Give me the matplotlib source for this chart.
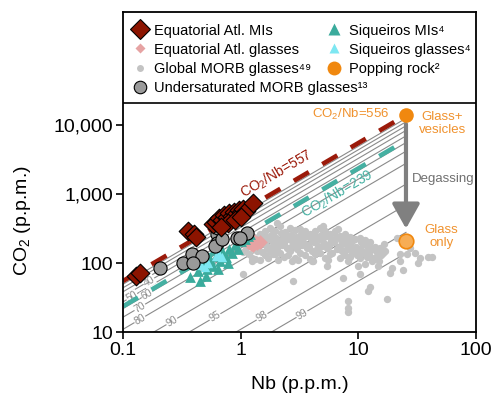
import numpy as np
import matplotlib
matplotlib.use('Agg')
import matplotlib.pyplot as plt
from matplotlib.ticker import FixedLocator, NullLocator

plt.rcParams['font.family'] = ['Liberation Sans', 'DejaVu Sans']
plt.rcParams['mathtext.fontset'] = 'custom'
plt.rcParams['mathtext.rm'] = 'Liberation Sans'
plt.rcParams['mathtext.it'] = 'Liberation Sans:italic'
plt.rcParams['mathtext.bf'] = 'Liberation Sans:bold'
plt.rcParams['mathtext.default'] = 'regular'

# --- data ---
# Equatorial Atlantic melt inclusions
eq_mi_nb = [0.129, 0.14, 0.36, 0.40, 0.42, 0.58, 0.62, 0.66, 0.70, 0.72, 0.76, 0.80, 0.84,
            0.88, 0.92, 0.96, 1.0, 1.05, 1.1, 0.78, 0.9, 1.0, 0.68, 1.27]
eq_mi_co2 = [66, 72, 300, 265, 240, 370, 400, 450, 420, 500, 470, 540, 480,
             560, 520, 600, 550, 620, 580, 380, 430, 470, 340, 750]

# Equatorial Atlantic glasses
eq_gl_nb = [1.15, 1.22, 1.3, 1.38, 1.45, 1.28]
eq_gl_co2 = [205, 190, 212, 196, 202, 185]

# Siqueiros melt inclusions / glasses
sq_mi_nb = [0.371, 0.434, 0.479, 0.518, 0.548, 0.582, 0.617, 0.667, 0.693, 0.750, 0.796,
            0.843, 0.895, 0.948, 1.006, 1.089, 1.153, 1.20, 0.451, 0.508, 0.78, 0.641]
sq_mi_co2 = [64, 78, 102, 84, 117, 93, 129, 109, 152, 125, 163,
             143, 186, 160, 213, 227, 251, 268, 56, 66, 100, 84]
sq_gl_nb = [0.46, 0.50, 0.53, 0.62, 0.66, 0.70]
sq_gl_co2 = [95, 88, 100, 130, 138, 125]

# undersaturated MORB glasses
us_nb = [0.206, 0.324, 0.386, 0.469, 0.393, 0.63, 0.63, 0.605, 0.93, 1.13, 0.64, 0.98, 0.7]
us_co2 = [87, 102, 138, 129, 102, 268, 199, 180, 235, 277, 327, 235, 230]

# global MORB glasses
gm_nb = [1.08, 1.12, 1.05, 1.19, 1.22, 1.17, 1.25, 1.31, 1.35, 1.29, 1.38, 1.33,
         1.45, 1.49, 1.42, 1.52, 1.47, 1.60, 1.64, 1.57, 1.68, 1.62,
         1.76, 1.80, 1.73, 1.84, 1.78, 1.71, 1.94, 1.99, 1.90, 2.03, 1.96,
         2.14, 2.19, 2.10, 2.24, 2.16, 2.07, 2.37, 2.42, 2.32, 2.47, 2.35,
         2.61, 2.67, 2.56, 2.72, 2.64, 2.53, 2.88, 2.94, 2.82, 3.00, 2.90,
         3.17, 3.25, 3.10, 3.30, 3.20, 3.05, 3.50, 3.58, 3.43, 3.64, 3.52,
         3.86, 3.95, 3.78, 4.02, 3.90, 4.26, 4.35, 4.18, 4.44, 4.30, 4.12,
         4.69, 4.80, 4.60, 4.90, 4.73, 5.18, 5.30, 5.07, 5.40, 5.22,
         5.71, 5.84, 5.60, 5.95, 5.76, 5.52, 6.30, 6.45, 6.17, 6.58,
         6.95, 7.10, 6.80, 7.25, 7.00, 7.66, 7.83, 7.50, 8.00, 7.72,
         8.45, 8.65, 8.28, 8.82, 8.52, 8.20, 9.32, 9.55, 9.12, 9.72,
         10.3, 10.5, 10.1, 10.7, 10.4, 11.3, 11.6, 11.1, 11.8, 11.4,
         12.5, 12.8, 12.2, 13.0, 13.8, 14.1, 13.5, 15.2, 15.6, 14.9,
         21.2, 22.5, 25.7, 30.1, 33.2, 38.8, 31.9, 14.6, 10.3, 12.5, 18.5, 22.5,
         27.3, 23.8, 19.2, 17.4, 12.0, 8.1, 8.1, 8.1, 9.86, 7.36, 5.38, 2.77,
         2.71, 1.26, 1.04, 1.87, 4.0, 14.3, 6.67, 4.97, 2.02, 17.0, 16.5, 42.0,
         1.56, 1.88, 2.28, 2.75, 3.35, 4.05, 4.95, 6.0, 7.3, 8.9, 10.9, 13.2,
         1.68, 2.05, 2.5, 3.05, 3.7, 4.5, 5.5, 6.7, 8.2, 10.0, 12.1, 16.2]
gm_co2 = [199, 165, 148, 222, 178, 136, 121, 240, 201, 160, 150, 118,
          270, 216, 183, 145, 112, 292, 246, 196, 166, 131,
          331, 262, 224, 176, 150, 119, 300, 238, 203, 160, 136,
          355, 273, 215, 183, 144, 111, 290, 248, 195, 166, 124,
          322, 263, 224, 177, 150, 131, 301, 239, 203, 160, 119,
          320, 272, 216, 184, 144, 111, 292, 247, 196, 167, 131,
          264, 224, 176, 151, 118, 300, 239, 203, 160, 137, 107,
          322, 263, 224, 177, 144, 291, 247, 195, 166, 119,
          272, 216, 183, 144, 137, 111, 292, 240, 203, 160,
          247, 216, 176, 150, 119, 264, 224, 196, 160, 131,
          240, 203, 177, 144, 124, 107, 224, 176, 166, 131,
          238, 203, 160, 150, 119, 216, 183, 144, 124, 98,
          203, 160, 137, 107, 176, 150, 119, 166, 131, 109,
          235, 138, 138, 143, 121, 125, 102, 93, 71, 45, 74, 109,
          169, 81, 87, 31, 40, 29, 23, 20, 93, 62, 93, 56,
          109, 109, 71, 138, 109, 129, 317, 350, 386, 150, 190, 125,
          230, 252, 232, 210, 226, 212, 232, 205, 190, 212, 190, 170,
          180, 190, 170, 180, 185, 180, 172, 168, 172, 160, 158, 142]

# popping rock (glass + vesicles, glass only)
pop_nb = [25.4, 25.4]
pop_co2 = [14120, 210]

# CO2/Nb reference ratios and degassing lines (% CO2 lost)
ratio_pop = 556
ratio_eq = 557
ratio_sq = 239
degas_pct = [10, 20, 30, 40, 50, 60, 70, 80, 90, 95, 98, 99]
label_pct = [40, 50, 60, 70, 80, 90, 95, 98, 99]
label_nb = [0.166, 0.119, 0.160, 0.139, 0.139, 0.26, 0.605, 1.52, 3.32]

# colours
RED = '#8c1400'
PINK = '#e6a3a3'
LGRAY = '#c3c3c3'
MGRAY = '#9a9a9a'
TEAL = '#3aab9c'
CYAN = '#7de7f2'
ORANGE = '#f0880f'
ORANGE_TXT = '#f0922e'
LINEGRAY = '#8a8a8a'

fig = plt.figure(figsize=(4.96, 3.97), dpi=100)
ax = fig.add_axes([0.248, 0.1625, 0.7117, 0.807])
ax.set_xscale('log')
ax.set_yscale('log')
ax.set_xlim(0.1, 100)
ax.set_ylim(10, 4.4e5)

# slope angle of a 1:1 line on screen
p0 = ax.transData.transform((1, 1))
p1 = ax.transData.transform((10, 10))
angle = np.degrees(np.arctan2(p1[1] - p0[1], p1[0] - p0[0]))

nb_end = np.array([0.1, pop_nb[0]])

# degassing lines
for pct in degas_pct:
    r = ratio_pop * (1 - pct / 100)
    ax.plot(nb_end, r * nb_end, color=LINEGRAY, lw=0.8, zorder=1)
for pct, xn in zip(label_pct, label_nb):
    r = ratio_pop * (1 - pct / 100)
    ax.text(xn, r * xn, str(pct), color=LINEGRAY, fontsize=7.5, rotation=angle,
            rotation_mode='anchor', ha='center', va='center', zorder=1.5,
            bbox=dict(fc='white', ec='none', pad=0.3))

# reference ratio lines
ax.plot(nb_end, ratio_eq * nb_end, color='#9b1a0a', lw=3.3, dashes=(3.8, 3.4), zorder=2)
ax.plot(np.array([0.1, 24]), ratio_sq * np.array([0.1, 24]), color='#45b0a2', lw=3.3,
        dashes=(3.8, 3.4), zorder=2)

# data
ax.scatter(gm_nb, gm_co2, s=28, marker='o', color=LGRAY, lw=0, zorder=3)
ax.scatter(eq_gl_nb, eq_gl_co2, s=55, marker='D', color=PINK, lw=0, zorder=3)
ax.scatter(sq_mi_nb, sq_mi_co2, s=60, marker='^', color=TEAL, lw=0, zorder=4)
ax.scatter(sq_gl_nb, sq_gl_co2, s=45, marker='^', color=CYAN, lw=0, zorder=4)
ax.scatter(us_nb, us_co2, s=90, marker='o', facecolor=MGRAY, edgecolor='k', lw=0.8, zorder=5)
ax.scatter(eq_mi_nb, eq_mi_co2, s=90, marker='D', facecolor=RED, edgecolor='k', lw=0.8, zorder=6)
ax.scatter(pop_nb[:1], pop_co2[:1], s=110, color=ORANGE, lw=0, zorder=6)
ax.scatter(pop_nb[1:], pop_co2[1:], s=110, facecolor='#f7ad55', edgecolor=ORANGE, lw=1.2, zorder=6)

# degassing arrow
ax.annotate('', xy=(pop_nb[0], 320), xytext=(pop_nb[0], 10500),
            arrowprops=dict(arrowstyle='-|>,head_length=0.75,head_width=0.42', color='#808080',
                            lw=3, mutation_scale=20, shrinkA=0, shrinkB=0), zorder=5)
ax.text(28.4, 1667, 'Degassing', color='#707070', fontsize=9.5, ha='left', va='center')

# annotations
ax.text(2.0, 1950, 'CO$_2$/Nb=557', color='#9b1a0a', fontsize=10, rotation=angle,
        rotation_mode='anchor', ha='center', va='center')
ax.text(6.6, 1010, 'CO$_2$/Nb=239', color='#45b0a2', fontsize=10, rotation=angle,
        rotation_mode='anchor', ha='center', va='center')
ax.text(18.4, 14450, 'CO$_2$/Nb=556', color=ORANGE_TXT, fontsize=9.5, ha='right', va='center')
ax.text(52, 10700, 'Glass+\nvesicles', color=ORANGE_TXT, fontsize=9.5, ha='center', va='center',
        linespacing=1.15)
ax.text(51, 247, 'Glass\nonly', color=ORANGE_TXT, fontsize=9.5, ha='center', va='center',
        linespacing=1.15)

# legend box at the top of the axes (laid out by hand, two columns)
ax.plot([0, 1], [0.7165, 0.7165], transform=ax.transAxes, color='k', lw=1.2, zorder=7)
leg_rows = [0.947, 0.887, 0.826, 0.767]
leg_items = [
    (0.048, 0, 'Equatorial Atl. MIs', dict(marker='D', ms=10, mfc=RED, mec='k', mew=0.8)),
    (0.048, 1, 'Equatorial Atl. glasses', dict(marker='D', ms=5.5, mfc=PINK, mec='none')),
    (0.048, 2, 'Global MORB glasses⁴⁹', dict(marker='o', ms=5, mfc=LGRAY, mec='none')),
    (0.048, 3, 'Undersaturated MORB glasses¹³', dict(marker='o', ms=9, mfc=MGRAY, mec='k', mew=0.8)),
    (0.598, 0, 'Siqueiros MIs⁴', dict(marker='^', ms=9, mfc=TEAL, mec='none')),
    (0.598, 1, 'Siqueiros glasses⁴', dict(marker='^', ms=7, mfc=CYAN, mec='none')),
    (0.598, 2, 'Popping rock²', dict(marker='o', ms=10, mfc=ORANGE, mec='none')),
]
for xm, row, label, style in leg_items:
    ym = leg_rows[row]
    ax.plot([xm], [ym], ls='none', transform=ax.transAxes, clip_on=False, zorder=8, **style)
    ax.text(xm + 0.041, ym, label, transform=ax.transAxes, fontsize=10.5,
            ha='left', va='center_baseline', zorder=8)

# axes styling
ax.xaxis.set_major_locator(FixedLocator([0.1, 1, 10, 100]))
ax.xaxis.set_minor_locator(NullLocator())
ax.set_xticklabels(['0.1', '1', '10', '100'])
ax.yaxis.set_major_locator(FixedLocator([10, 100, 1000, 10000]))
ax.yaxis.set_minor_locator(NullLocator())
ax.set_yticklabels(['10', '100', '1,000', '10,000'])
ax.tick_params(which='major', direction='out', length=5, width=1.2, labelsize=14, pad=2)
for sp in ax.spines.values():
    sp.set_linewidth(1.3)
ax.set_xlabel('Nb (p.p.m.)', fontsize=14)
ax.set_ylabel('CO$_2$ (p.p.m.)', fontsize=14)
ax.xaxis.set_label_coords(0.5, -0.135)
ax.yaxis.set_label_coords(-0.255, 0.35)

fig.savefig('out.png', dpi=100)
